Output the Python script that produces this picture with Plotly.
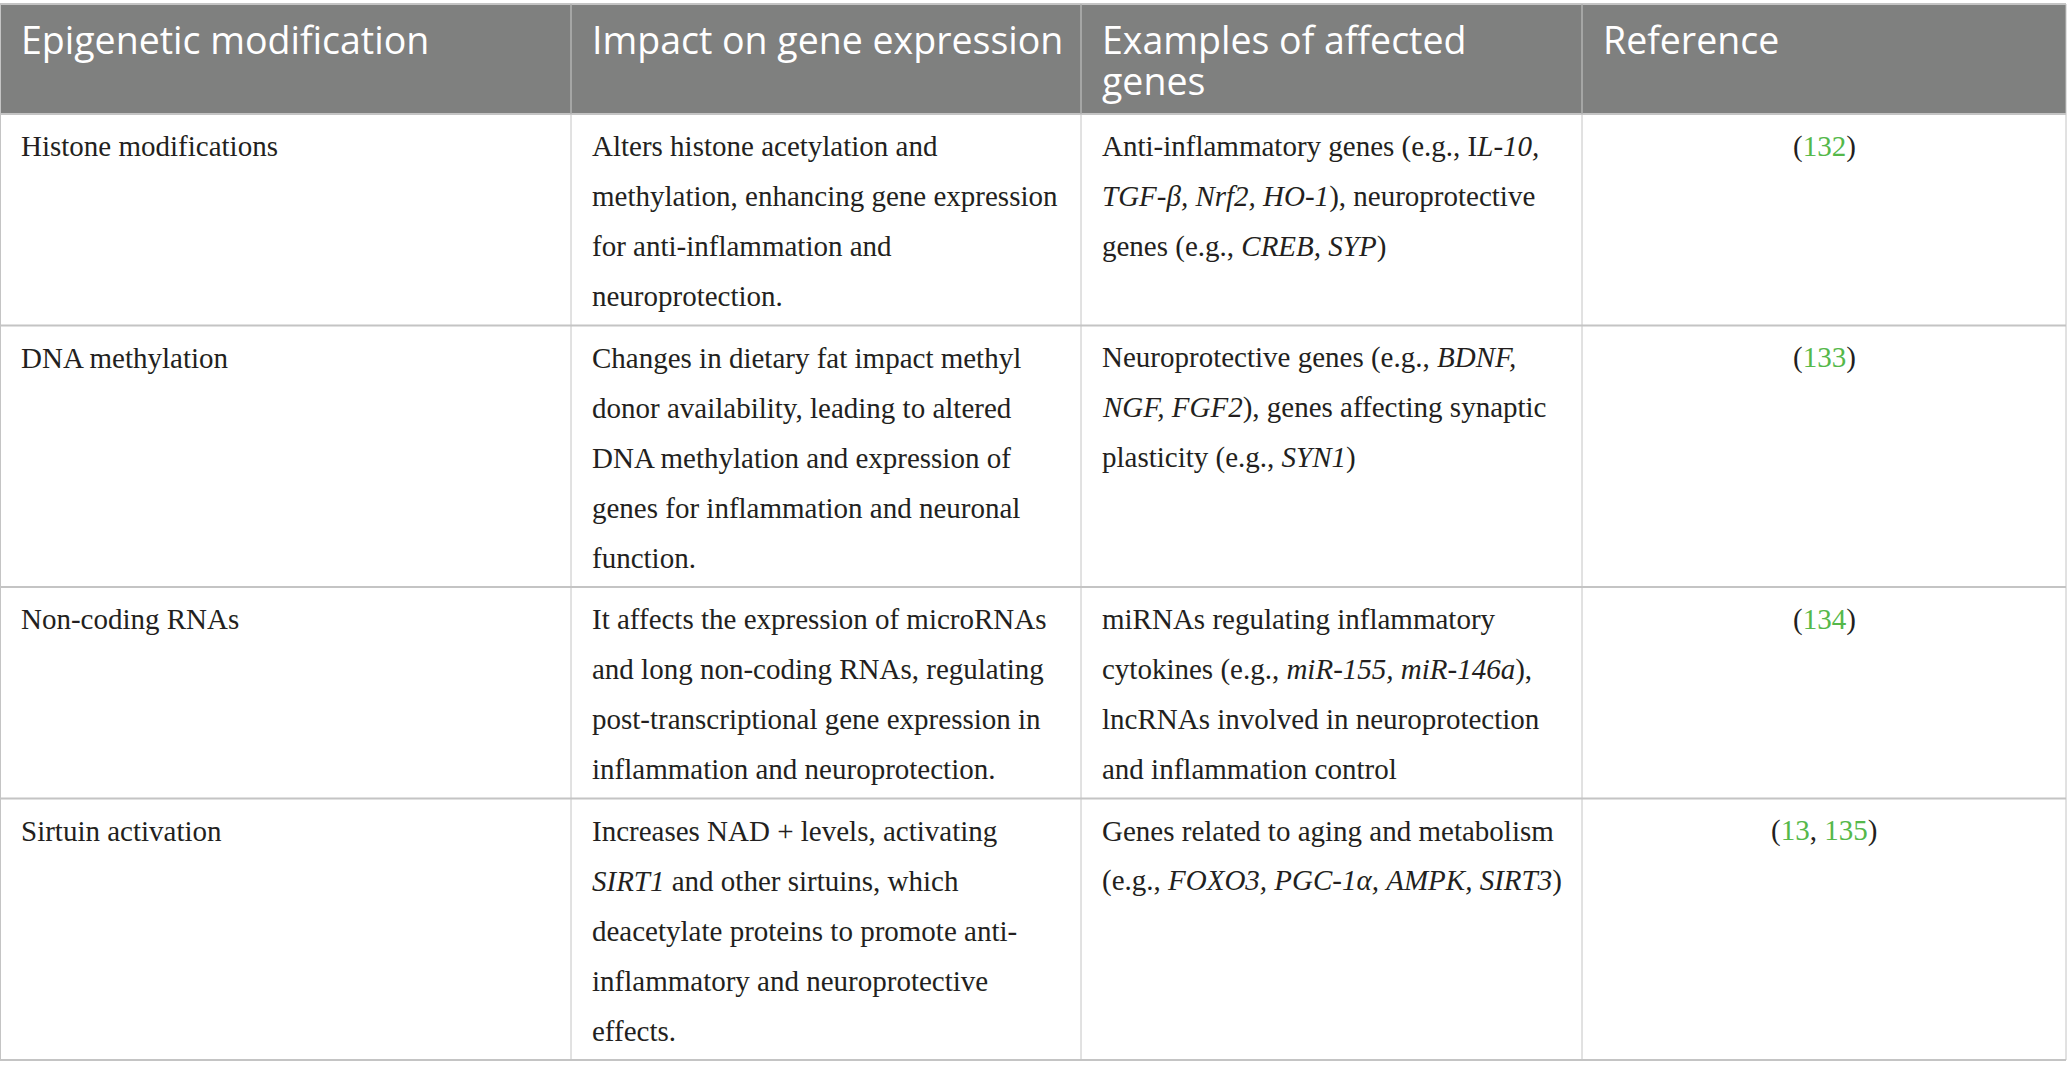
import plotly.graph_objects as go

# ---------------- data ----------------
header_lines = [
    ["Epigenetic modification"],
    ["Impact on gene expression"],
    ["Examples of affected", "genes"],
    ["Reference"],
]

modification_lines = [
    ["Histone modifications"],
    ["DNA methylation"],
    ["Non-coding RNAs"],
    ["Sirtuin activation"],
]

impact_lines = [
    ["Alters histone acetylation and",
     "methylation, enhancing gene expression",
     "for anti-inflammation and",
     "neuroprotection."],
    ["Changes in dietary fat impact methyl",
     "donor availability, leading to altered",
     "DNA methylation and expression of",
     "genes for inflammation and neuronal",
     "function."],
    ["It affects the expression of microRNAs",
     "and long non-coding RNAs, regulating",
     "post-transcriptional gene expression in",
     "inflammation and neuroprotection."],
    ["Increases NAD + levels, activating",
     "<i>SIRT1</i> and other sirtuins, which",
     "deacetylate proteins to promote anti-",
     "inflammatory and neuroprotective",
     "effects."],
]

example_lines = [
    ["Anti-inflammatory genes (e.g., I<i>L-10,</i>",
     "<i>TGF-β, Nrf2, HO-1</i>), neuroprotective",
     "genes (e.g., <i>CREB, SYP</i>)"],
    ["Neuroprotective genes (e.g., <i>BDNF,</i>",
     "<i>NGF, FGF2</i>), genes affecting synaptic",
     "plasticity (e.g., <i>SYN1</i>)"],
    ["miRNAs regulating inflammatory",
     "cytokines (e.g., <i>miR-155, miR-146a</i>),",
     "lncRNAs involved in neuroprotection",
     "and inflammation control"],
    ["Genes related to aging and metabolism",
     "(e.g., <i>FOXO3, PGC-1α, AMPK, SIRT3</i>)"],
]

reference_numbers = [["132"], ["133"], ["134"], ["13", "135"]]

# ---------------- styling / layout constants ----------------
W, H = 2067, 1079
col_widths = [571, 510, 501, 484]
TOP = 4
HEADER_H = 110
HEAD_BASE = 50
HEAD_LINE = 41
BODY_BASE = 42
BODY_LINE = 50
BODY_PAD_BOTTOM = 11.5
PAD_X = 21

HEAD_SIZE = 37.5
HEAD_FAMILY = "Open Sans"
HEAD_ASC = 1.069
BODY_FONT = dict(family="Liberation Serif", size=29, color="#231f20")
HEADER_BG = "#7f807f"
GRID = "#c4c4c4"
GREEN = "#55b84a"

col_x = [0]
for w in col_widths:
    col_x.append(col_x[-1] + w)

body_cols = [modification_lines, impact_lines, example_lines]

refs_text = []
for nums in reference_numbers:
    inner = ", ".join(f'<span style="color:{GREEN}">{n}</span>' for n in nums)
    refs_text.append(["(" + inner + ")"])

row_lines = []
for r in range(len(modification_lines)):
    row_lines.append(max(len(c[r]) for c in body_cols))

row_tops = [TOP + HEADER_H]
for n in row_lines:
    row_tops.append(row_tops[-1] + n * BODY_LINE + BODY_PAD_BOTTOM)

fig = go.Figure()
fig.add_trace(go.Scatter(x=[0, W], y=[0, H], mode="markers",
                         marker=dict(opacity=0), hoverinfo="skip", showlegend=False))

shapes = []
# header background
shapes.append(dict(type="rect", xref="x", yref="y", x0=col_x[0], x1=col_x[-1],
                   y0=TOP, y1=TOP + HEADER_H, fillcolor=HEADER_BG,
                   line=dict(width=0), layer="below"))
# horizontal lines
for y in [TOP] + row_tops:
    shapes.append(dict(type="line", xref="x", yref="y", x0=col_x[0], x1=col_x[-1],
                       y0=y, y1=y, line=dict(color=GRID, width=2)))
# vertical lines
for i, x in enumerate(col_x):
    xx = min(max(x, 0.5), W - 1)
    shapes.append(dict(type="line", xref="x", yref="y", x0=xx, x1=xx,
                       y0=TOP, y1=row_tops[-1], line=dict(color=GRID, width=1)))
    if 0 < i < len(col_x) - 1:
        shapes.append(dict(type="line", xref="x", yref="y", x0=xx, x1=xx,
                           y0=TOP, y1=TOP + HEADER_H,
                           line=dict(color="#a9aaa9", width=1)))

annotations = []


def add_line(text, x, baseline, font, xanchor, asc, desc):
    center = baseline - (asc - desc) / 2 * font["size"]
    annotations.append(dict(text=text, x=x, y=center, xref="x", yref="y",
                            xanchor=xanchor, yanchor="middle", showarrow=False,
                            font=font, align="left" if xanchor == "left" else "center",
                            borderpad=0, borderwidth=0))


# header: one text block per cell; the block's base font sets the line pitch
# (plotly uses 1.3em between lines) while the glyphs are drawn larger.
head_block_font = dict(family=HEAD_FAMILY, size=HEAD_LINE / 1.3, color="white")
for c, lines in enumerate(header_lines):
    txt = "<br>".join(f'<span style="font-size:{HEAD_SIZE}px">{t}</span>' for t in lines)
    annotations.append(dict(text=txt, x=col_x[c] + PAD_X,
                            y=TOP + HEAD_BASE - HEAD_ASC * HEAD_SIZE,
                            xref="x", yref="y", xanchor="left", yanchor="top",
                            showarrow=False, font=head_block_font, align="left",
                            borderpad=0, borderwidth=0))

# body
for r in range(len(modification_lines)):
    top = row_tops[r]
    for c, col in enumerate(body_cols):
        for k, t in enumerate(col[r]):
            add_line(t, col_x[c] + PAD_X, top + BODY_BASE + k * BODY_LINE,
                     BODY_FONT, "left", 0.891, 0.216)
    for k, t in enumerate(refs_text[r]):
        add_line(t, (col_x[3] + col_x[4]) / 2, top + BODY_BASE + k * BODY_LINE,
                 BODY_FONT, "center", 0.891, 0.216)

fig.update_layout(
    width=W, height=H,
    margin=dict(l=0, r=0, t=0, b=0),
    paper_bgcolor="white", plot_bgcolor="white",
    xaxis=dict(range=[0, W], visible=False, fixedrange=True),
    yaxis=dict(range=[H, 0], visible=False, fixedrange=True),
    shapes=shapes, annotations=annotations, showlegend=False,
)

fig.write_html(
    "out.html",
    config={"displayModeBar": False},
    post_script="document.body.style.margin='0';document.body.style.overflow='hidden';",
)
